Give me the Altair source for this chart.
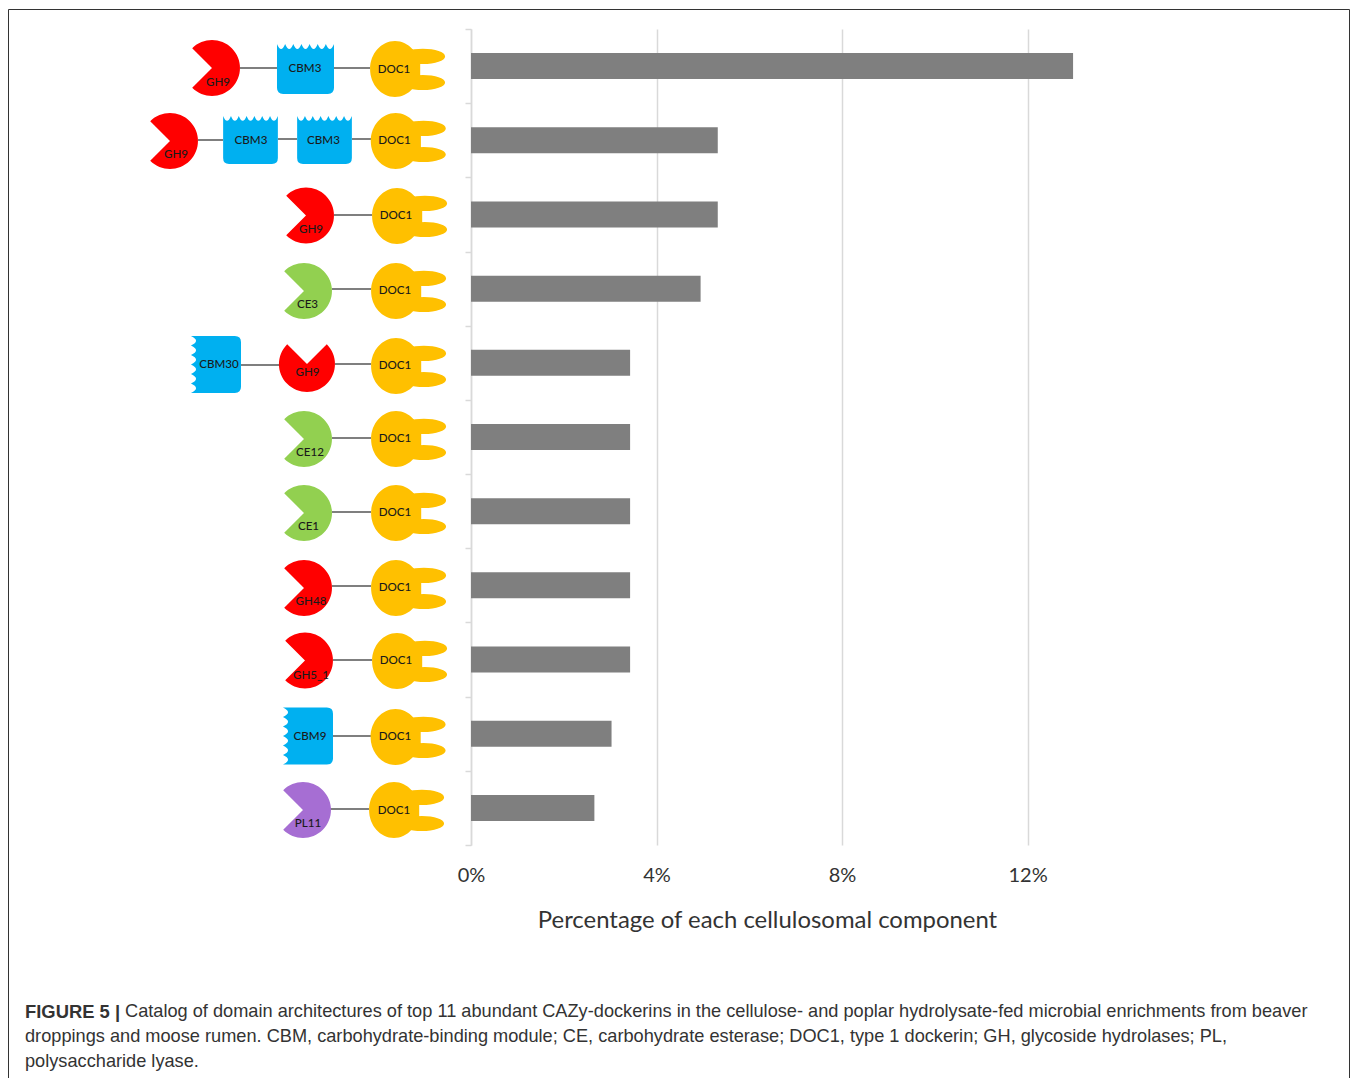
import altair as alt
import pandas as pd

# ---- chart values ----
ARCHITECTURES = ["GH9-CBM3-DOC1", "GH9-CBM3-CBM3-DOC1", "GH9-DOC1", "CE3-DOC1", "CBM30-GH9-DOC1",
                 "CE12-DOC1", "CE1-DOC1", "GH48-DOC1", "GH5_1-DOC1", "CBM9-DOC1", "PL11-DOC1"]
PERCENTAGES = [12.98, 5.32, 5.32, 4.95, 3.43, 3.43, 3.43, 3.43, 3.43, 3.03, 2.66]
TICKS = [0, 4, 8, 12]
AXIS_TITLE = "Percentage of each cellulosomal component"

# ---- domain cartoons, in page pixels ----
GLYPH_KIND = ["pac", "cbmtop", "doc", "pac", "cbmtop", "cbmtop", "doc", "pac", "doc", "pac", "doc",
              "cbmleft", "pacup", "doc", "pac", "doc", "pac", "doc", "pac", "doc", "pac", "doc",
              "cbmleft", "doc", "pac", "doc"]
GLYPH_X = [212, 305.5, 395, 170, 250.5, 324.5, 395.7, 306, 397, 304, 396,
           216, 307, 396, 304, 396, 304, 396, 304, 396, 305, 397,
           308, 395.5, 303, 394]
GLYPH_Y = [68, 69, 69, 141, 140, 140, 141, 215.5, 216, 291, 291,
           364.5, 364, 366, 439, 439, 513, 513, 588, 588, 660.5, 661,
           736, 737, 810, 810]
GLYPH_FILL = ["#FF0000", "#00B0F0", "#FFC000", "#FF0000", "#00B0F0", "#00B0F0", "#FFC000", "#FF0000", "#FFC000",
              "#92D050", "#FFC000", "#00B0F0", "#FF0000", "#FFC000", "#92D050", "#FFC000", "#92D050", "#FFC000",
              "#FF0000", "#FFC000", "#FF0000", "#FFC000", "#00B0F0", "#FFC000", "#A66ED3", "#FFC000"]
GLYPH_SCALE = [1, 1, 1, 1, .96, .96, 1, 1, 1, 1, 1, 1, 1, 1, 1, 1, 1, 1, 1, 1, 1, 1, 1, 1, 1, 1]

LABEL_TEXT = ["GH9", "CBM3", "DOC1", "GH9", "CBM3", "CBM3", "DOC1", "GH9", "DOC1", "CE3", "DOC1",
              "CBM30", "GH9", "DOC1", "CE12", "DOC1", "CE1", "DOC1", "GH48", "DOC1", "GH5_1", "DOC1",
              "CBM9", "DOC1", "PL11", "DOC1"]
LABEL_X = [218, 305, 394, 176, 251, 323.5, 394.5, 311, 396, 307.5, 395,
           219, 307.5, 395, 310, 395, 308.5, 395, 311, 395, 311, 396,
           310, 395, 308, 394]
LABEL_Y = [83, 69, 69.5, 155, 141, 141, 141, 230, 216, 305, 291,
           365, 373, 366, 453, 439, 527, 513, 602, 588, 676, 661,
           736.5, 737, 823.5, 810.5]

LINK_X1 = [240, 334, 198, 278, 352, 334, 332, 241, 335, 332, 332, 332, 333, 333, 330]
LINK_X2 = [277, 370, 223, 297, 371, 372, 371, 279, 371, 371, 371, 371, 372, 371, 369]
LINK_Y = [68, 68, 140, 139, 139, 215, 289, 365, 364, 438, 512, 586, 660, 736, 809]

CAPTION_BOLD = "FIGURE 5 |"
CAPTION = [
    "Catalog of domain architectures of top 11 abundant CAZy-dockerins in the cellulose- and poplar hydrolysate-fed microbial enrichments from beaver",
    "droppings and moose rumen. CBM, carbohydrate-binding module; CE, carbohydrate esterase; DOC1, type 1 dockerin; GH, glycoside hydrolases; PL,",
    "polysaccharide lyase.",
]
CAPTION_X = [125, 25, 25]
CAPTION_Y = [1012, 1037, 1062]

# ---- glyph outlines (unit = half of the symbol box) ----
PAC = "M0 0L-.707 -.707A1 1 0 1 1 -.707 .707Z"
PAC_UP = "M0 0L.707 -.707A1 1 0 1 1 -.707 -.707Z"
DOC = ("M-.89 0A.89 1 0 1 1 .89 0A.89 1 0 1 1 -.89 0Z"
       "M.2 -.45A.795 .27 0 1 1 1.79 -.45A.795 .27 0 1 1 .2 -.45Z"
       "M.2 .48A.795 .27 0 1 1 1.79 .48A.795 .27 0 1 1 .2 .48Z"
       "M.4 -.5L.9 -.5L.9 .5L.4 .5Z")


def cbm_top(hw=1.018, hh=.893, n=7, dip=.36, r=.22):
    step = 2 * hw / n
    p = f"M{-hw} {-hh}"
    for i in range(n):
        p += f"Q{-hw + (i + .5) * step:.3f} {-hh + dip} {-hw + (i + 1) * step:.3f} {-hh}"
    p += f"L{hw} {hh - r}Q{hw} {hh} {hw - r} {hh}L{-hw + r} {hh}Q{-hw} {hh} {-hw} {hh - r}Z"
    return p


def cbm_left(hw=.893, hh=1.018, n=6, dip=.36, r=.22):
    step = 2 * hh / n
    p = f"M{-hw} {hh}"
    for i in range(n):
        p += f"Q{-hw + dip} {hh - (i + .5) * step:.3f} {-hw} {hh - (i + 1) * step:.3f}"
    p += f"L{hw - r} {-hh}Q{hw} {-hh} {hw} {-hh + r}L{hw} {hh - r}Q{hw} {hh} {hw - r} {hh}Z"
    return p


PATHS = {"pac": PAC, "pacup": PAC_UP, "doc": DOC, "cbmtop": cbm_top(), "cbmleft": cbm_left()}
UNIT = 28

# ---- page layout ----
PAGE_W, PAGE_H = 1342, 1070
PLOT_L, PLOT_T, PLOT_W, PLOT_H = 471, 29, 603, 816
PX = alt.Scale(domain=[8, 8 + PAGE_W], range=[8 - PLOT_L, 8 - PLOT_L + PAGE_W])
PY = alt.Scale(domain=[8, 8 + PAGE_H], range=[8 - PLOT_T, 8 - PLOT_T + PAGE_H])


def X(f):
    return alt.X(f, type="quantitative", scale=PX, axis=None)


def Y(f):
    return alt.Y(f, type="quantitative", scale=PY, axis=None)


bars_df = pd.DataFrame({"arch": ARCHITECTURES, "pct": PERCENTAGES})
bars = alt.Chart(bars_df).mark_bar(color="#7F7F7F", size=26).encode(
    x=alt.X("pct:Q",
            scale=alt.Scale(domain=[0, 13], nice=False),
            axis=alt.Axis(values=TICKS, labelExpr="datum.value + '%'", title=AXIS_TITLE, grid=True,
                          gridColor="#D9D9D9", gridWidth=1.5, domain=False, ticks=False,
                          labelFont="Lato", labelFontSize=20, labelColor="#333333", labelPadding=20,
                          labelBaseline="top", titleFont="Lato", titleFontSize=23.9, titleFontWeight="normal",
                          titleColor="#333333", titlePadding=23, titleX=296, labelFlush=False)),
    y=alt.Y("arch:N", sort=ARCHITECTURES,
            scale=alt.Scale(domain=ARCHITECTURES, paddingInner=0, paddingOuter=0),
            axis=alt.Axis(title=None, labels=False, tickBand="extent", tickSize=6, tickColor="#D9D9D9",
                          tickWidth=1.5, domainColor="#D9D9D9", domainWidth=1.5, grid=False)),
)

links_df = pd.DataFrame({"x1": LINK_X1, "x2": LINK_X2, "y": LINK_Y})
links = alt.Chart(links_df).mark_rule(color="#7F7F7F", strokeWidth=2).encode(
    x=X("x1"), x2="x2", y=Y("y"))

glyph_df = pd.DataFrame({"x": GLYPH_X, "y": GLYPH_Y, "fill": GLYPH_FILL,
                         "path": [PATHS[k] for k in GLYPH_KIND],
                         "size": [(2 * UNIT * s) ** 2 for s in GLYPH_SCALE]})
glyphs = alt.Chart(glyph_df).mark_point(filled=True, opacity=1, strokeWidth=0).encode(
    x=X("x"), y=Y("y"),
    color=alt.Color("fill:N", scale=None),
    shape=alt.Shape("path:N", scale=None),
    size=alt.Size("size:Q", scale=None),
)

label_df = pd.DataFrame({"x": LABEL_X, "y": LABEL_Y, "t": LABEL_TEXT})
labels = alt.Chart(label_df).mark_text(font="Lato", fontSize=11.6, color="#1A1A1A", fontWeight=500).encode(
    x=X("x"), y=Y("y"), text="t:N")

cap_df = pd.DataFrame({"x": CAPTION_X, "y": CAPTION_Y, "t": CAPTION})
caption = alt.Chart(cap_df).mark_text(font="Liberation Sans", fontSize=18.2, color="#333333", align="left").encode(
    x=X("x"), y=Y("y"), text="t:N")
cap_bold = alt.Chart(pd.DataFrame({"x": [25], "y": [1012], "t": [CAPTION_BOLD]})).mark_text(
    font="Liberation Sans", fontSize=18.4, fontWeight="bold", color="#333333", align="left").encode(
    x=X("x"), y=Y("y"), text="t:N")

BORDER_X1, BORDER_X2, BORDER_Y1, BORDER_Y2 = [8.5, 1349.5, 8.5], [8.5, 1349.5, 1349.5], [9.5, 9.5, 9.5], [1078, 1078, 9.5]
border = alt.Chart(pd.DataFrame({"x": BORDER_X1, "x2": BORDER_X2, "y": BORDER_Y1, "y2": BORDER_Y2})).mark_rule(
    color="#333333", strokeWidth=1).encode(x=X("x"), x2="x2", y=Y("y"), y2="y2")

chart = alt.layer(bars, links, glyphs, labels, caption, cap_bold, border).resolve_scale(
    x="independent", y="independent"
).resolve_axis(x="independent", y="independent").properties(
    width=PLOT_W, height=PLOT_H,
    padding={"left": PLOT_L - 8, "top": PLOT_T - 8,
             "right": PAGE_W - (PLOT_L - 8) - PLOT_W, "bottom": PAGE_H - (PLOT_T - 8) - PLOT_H},
    autosize=alt.AutoSizeParams(type="none"),
    background="white",
).configure_view(stroke=None)

chart.save("out.html", embed_options={"renderer": "svg", "actions": False})
